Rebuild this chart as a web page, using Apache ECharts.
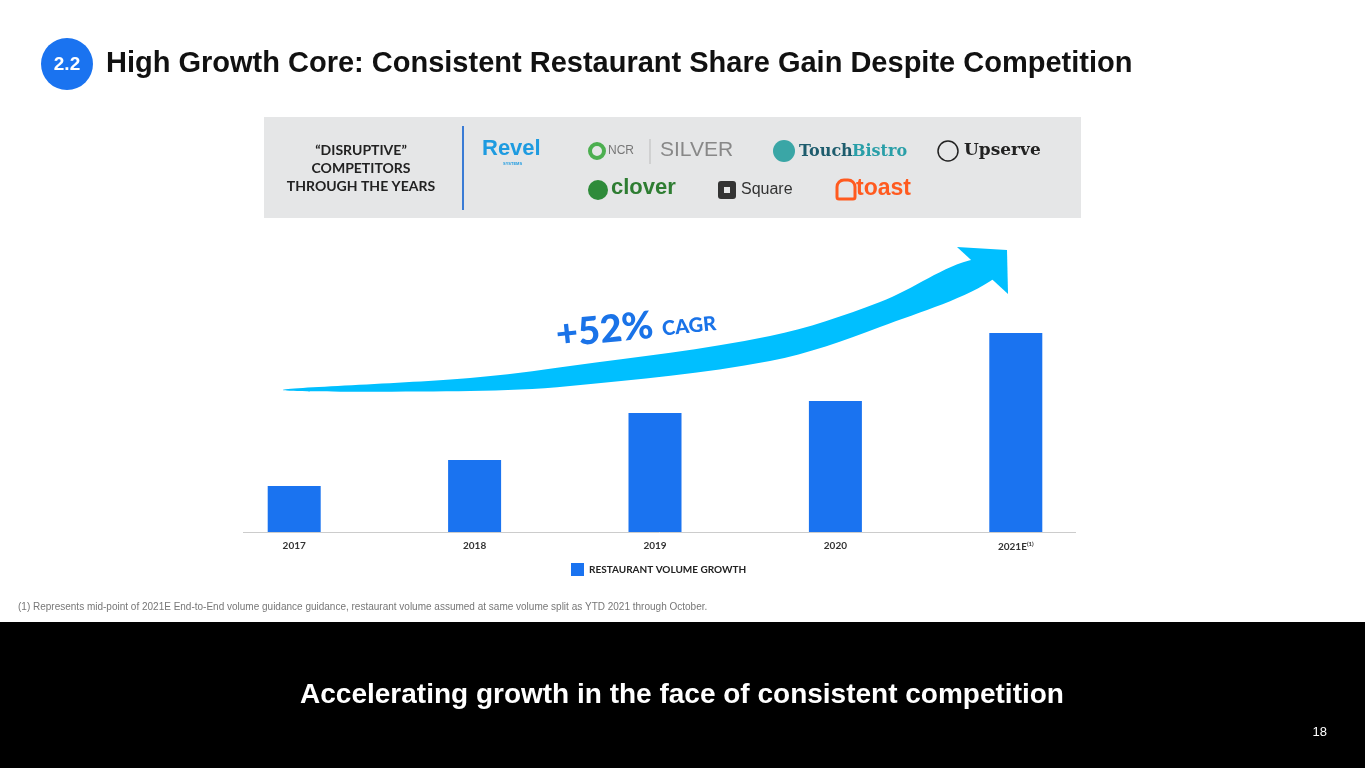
<!DOCTYPE html>
<html><head><meta charset="utf-8">
<script src="https://cdn.jsdelivr.net/npm/echarts@6/dist/echarts.min.js"></script>
<style>html,body{margin:0;padding:0;background:#fff}#c{width:1365px;height:768px}</style>
</head><body><div id="c"></div>
<script>
// chart data
var years = ['2017', '2018', '2019', '2020', '2021E'];
var volumeGrowth = [46, 72, 119, 131, 199];
var seriesName = 'RESTAURANT VOLUME GROWTH';

var chart = echarts.init(document.getElementById('c'));
var blue = '#1a73f0';
var font = 'Lato, "Open Sans", sans-serif';
var sans = '"Liberation Sans", Arial, sans-serif';
var serif = '"DejaVu Serif", Georgia, serif';

function logo(x, y, text, color, size, weight, family) {
    return {type: 'text', x: x, y: y, style: {text: text, fill: color, textVerticalAlign: 'middle', font: (weight || 'bold') + ' ' + size + 'px ' + (family || sans)}};
}

var option = {
    animation: false,
    grid: {left: 204, right: 259, top: 200, bottom: 236},
    legend: {
        data: [seriesName], top: 558, left: 566,
        itemWidth: 13, itemHeight: 13, icon: 'rect', itemGap: 8,
        textStyle: {fontSize: 10, color: '#222', fontFamily: font, fontWeight: 'bold'}
    },
    xAxis: {
        type: 'category', data: years,
        axisLine: {show: false}, axisTick: {show: false},
        axisLabel: {color: '#333', fontSize: 10, fontFamily: font, margin: 9, fontWeight: 'bold',
            formatter: function (v) { return v === '2021E' ? v + '{s|(1)}' : v; },
            rich: {s: {fontSize: 6, verticalAlign: 'top', padding: [0, 0, 6, 0]}}}
    },
    yAxis: {type: 'value', min: 0, max: 332, show: false, splitLine: {show: false}},
    series: [{name: seriesName, type: 'bar', data: volumeGrowth, barWidth: 53, itemStyle: {color: blue}}],
    graphic: [
        // axis baseline
        {type: 'line', shape: {x1: 243, y1: 532.5, x2: 1076, y2: 532.5}, style: {stroke: '#ccc', lineWidth: 1}},
        // title
        {type: 'circle', shape: {cx: 67, cy: 64, r: 26}, style: {fill: blue}},
        {type: 'text', x: 67, y: 65, style: {text: '2.2', fill: '#fff', textAlign: 'center', textVerticalAlign: 'middle', font: 'bold 19px ' + sans}},
        {type: 'text', x: 106, y: 64, style: {text: 'High Growth Core: Consistent Restaurant Share Gain Despite Competition', fill: '#111', textVerticalAlign: 'middle', font: 'bold 29px ' + sans}},
        // competitor box
        {type: 'rect', shape: {x: 264, y: 117, width: 817, height: 101}, style: {fill: '#e5e6e7'}},
        {type: 'line', shape: {x1: 463, y1: 126, x2: 463, y2: 210}, style: {stroke: '#3a7bd5', lineWidth: 2}},
        {type: 'text', x: 361, y: 168, style: {text: '\u201cDISRUPTIVE\u201d\nCOMPETITORS\nTHROUGH THE YEARS', textAlign: 'center', textVerticalAlign: 'middle', fill: '#222', font: 'bold 14px Lato, sans-serif', lineHeight: 18}},
        logo(482, 149, 'Revel', '#1e9be0', 22),
        logo(503, 164, 'SYSTEMS', '#1e9be0', 4),
        {type: 'circle', shape: {cx: 597, cy: 151, r: 7}, style: {fill: 'none', stroke: '#4caf50', lineWidth: 4}},
        logo(608, 151, 'NCR', '#777', 12, 'normal'),
        {type: 'line', shape: {x1: 650, y1: 139, x2: 650, y2: 164}, style: {stroke: '#bbb', lineWidth: 1}},
        logo(660, 150, 'SILVER', '#888', 21, 'normal'),
        {type: 'circle', shape: {cx: 784, cy: 151, r: 11}, style: {fill: '#3aa6a6'}},
        logo(799, 152, 'Touch', '#1d5c6d', 16, 'bold', serif),
        logo(852, 152, 'Bistro', '#2a9fa8', 16, 'bold', serif),
        {type: 'circle', shape: {cx: 948, cy: 151, r: 10}, style: {fill: 'none', stroke: '#222', lineWidth: 1.5}},
        logo(964, 151, 'Upserve', '#222', 17, 'bold', serif),
        {type: 'circle', shape: {cx: 598, cy: 190, r: 10}, style: {fill: '#2e8b3a'}},
        logo(611, 188, 'clover', '#2e7d32', 22),
        {type: 'rect', shape: {x: 718, y: 181, width: 18, height: 18, r: 3}, style: {fill: '#333'}},
        {type: 'rect', shape: {x: 724, y: 187, width: 6, height: 6}, style: {fill: '#e5e6e7'}},
        logo(741, 190, 'Square', '#333', 16, 'normal'),
        {type: 'rect', shape: {x: 837, y: 180, width: 18, height: 19, r: [7, 7, 2, 2]}, style: {fill: 'none', stroke: '#ff5a1f', lineWidth: 3}},
        logo(856, 189, 'toast', '#ff5a1f', 23),
        // CAGR arrow: curved body + head
        {type: 'polygon', shape: {smooth: 0.35, points: [[283, 390], [470, 391], [570, 386], [770, 361], [880, 327], [995, 278], [975, 259], [880, 302], [770, 336], [570, 366], [470, 378]]}, style: {fill: '#00bfff'}},
        {type: 'polygon', shape: {points: [[957, 247], [1007, 250], [1008, 294]]}, style: {fill: '#00bfff'}},
        {type: 'text', x: 558, y: 354, rotation: 0.1, style: {text: '+52%', fill: '#1a73e8', textVerticalAlign: 'bottom', font: '900 38px Lato, sans-serif'}},
        {type: 'text', x: 663, y: 339, rotation: 0.1, style: {text: 'CAGR', fill: '#1a73e8', textVerticalAlign: 'bottom', font: '900 20px Lato, sans-serif'}},
        // footnote
        {type: 'text', x: 18, y: 607, style: {text: '(1) Represents mid-point of 2021E End-to-End volume guidance guidance, restaurant volume assumed at same volume split as YTD 2021 through October.', fill: '#777', textVerticalAlign: 'middle', font: '10px ' + sans}},
        // bottom banner
        {type: 'rect', shape: {x: 0, y: 622, width: 1365, height: 146}, style: {fill: '#000'}},
        {type: 'text', x: 682, y: 695, style: {text: 'Accelerating growth in the face of consistent competition', fill: '#fff', textAlign: 'center', textVerticalAlign: 'middle', font: 'bold 28px ' + sans}},
        {type: 'text', x: 1327, y: 732, style: {text: '18', fill: '#fff', textAlign: 'right', textVerticalAlign: 'middle', font: '13px ' + sans}}
    ]
};
chart.setOption(option);
</script></body></html>
